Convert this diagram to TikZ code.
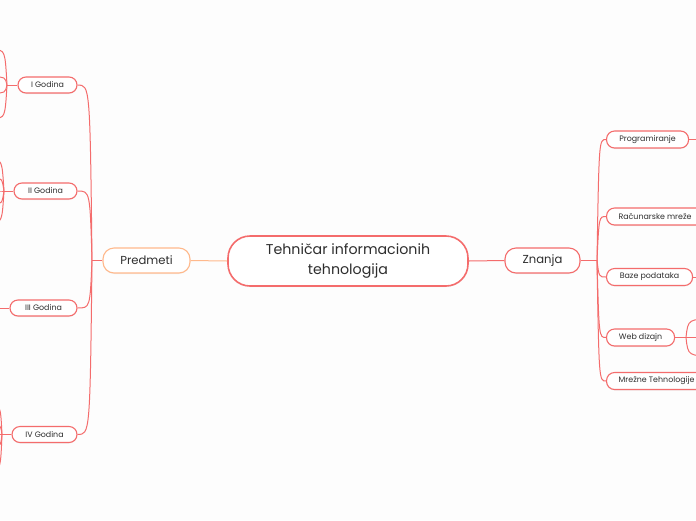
\documentclass[tikz,border=0pt]{standalone}
\usepackage{fontspec}
\setmainfont{Poppins}
\usetikzlibrary{shadows,calc}
\definecolor{mred}{HTML}{F46C6C}
\definecolor{morange}{HTML}{FFB98C}
\definecolor{mtext}{HTML}{2E2E2E}
\definecolor{mbg}{HTML}{FDFDFD}
\begin{document}
\begin{tikzpicture}[x=1pt,y=-1pt,
  box/.style={draw=mred, line width=1.1pt, fill=white, rounded corners=8pt,
    minimum height=16pt, inner sep=0pt, text=mtext,
    font=\fontsize{7.9}{9}\selectfont,
    drop shadow={shadow xshift=0pt, shadow yshift=-1pt, opacity=0.10}},
  conn/.style={draw=mred, line width=1pt},
]
\useasboundingbox (0,0) rectangle (696,520);
\fill[mbg] (0,0) rectangle (696,520);
\clip (0,0) rectangle (696,520);

% main nodes
\node[box, line width=1.6pt, minimum width=240pt, minimum height=50pt, rounded corners=22pt,
  font=\fontsize{14.2}{19.5}\selectfont, align=center] (c) at (348,261) {Tehničar informacionih\\tehnologija};
\node[box, draw=morange, minimum width=87pt, minimum height=25pt, rounded corners=11pt,
  font=\fontsize{11.6}{13}\selectfont] (p) at (146.5,260.5) {Predmeti};
\node[box, minimum width=75pt, minimum height=25pt, rounded corners=11pt,
  font=\fontsize{11.6}{13}\selectfont] (z) at (542.5,260.5) {Znanja};

% left children
\node[box, minimum width=59pt] (g1) at (47.5,85) {I Godina};
\node[box, minimum width=63pt] (g2) at (45.5,191) {II Godina};
\node[box, minimum width=67pt] (g3) at (43.5,308) {III Godina};
\node[box, minimum width=65pt] (g4) at (44.5,434.5) {IV Godina};

% right children
\node[box, anchor=west, minimum width=82pt, minimum height=17pt] (k1) at (606,139.5) {Programiranje};
\node[box, anchor=west, minimum width=97pt, minimum height=17pt] (k2) at (606,216.5) {Računarske mreže};
\node[box, anchor=west, minimum width=86pt, minimum height=17pt] (k3) at (606,277) {Baze podataka};
\node[box, anchor=west, minimum width=68pt, minimum height=17pt] (k4) at (606,337.5) {Web dizajn};
\node[box, anchor=west, minimum width=100pt, minimum height=17pt] (k5) at (606,381) {Mrežne Tehnologije};

% connectors from root
\draw[conn, draw=morange] (c.west) -- (p.east);
\draw[conn] (c.east) -- (z.west);

% Predmeti subtree
\coordinate (ps) at (92,260.5);
\draw[conn] (p.west) -- (ps);
\foreach \g in {g1,g2,g3,g4}{
  \draw[conn] (ps) .. controls ($(ps|-\g.east)+(-2,0)$) and ($(ps|-\g.east)+(-2,0)$) .. (\g.east);
}

% Znanja subtree
\coordinate (zs) at (597,260.5);
\draw[conn] (z.east) -- (zs);
\foreach \k in {k1,k2,k3,k4,k5}{
  \draw[conn] (zs) .. controls ($(zs|-\k.west)+(2,0)$) and ($(zs|-\k.west)+(2,0)$) .. (\k.west);
}

% off-picture continuations (right)
\coordinate (k1o) at (720,139.5);
\draw[conn] (k1.east) -- (k1o);
\coordinate (k3o) at (720,277);
\draw[conn] (k3.east) -- (k3o);
\coordinate (ws) at (686,337.5);
\draw[conn] (k4.east) -- (ws);
\foreach \yy in {319,337.5,356}{
  \coordinate (wc) at (716,\yy);
  \draw[conn] (ws) .. controls ($(ws|-wc)+(2,0)$) and ($(ws|-wc)+(2,0)$) .. (wc);
}

% off-picture continuations (left)
\coordinate (g1s) at (7,85);
\draw[conn] (g1.west) -- (g1s);
\foreach \yy in {50,77,93,118}{
  \coordinate (gc) at (-6,\yy);
  \draw[conn] (g1s) .. controls ($(g1s|-gc)+(-2,0)$) and ($(g1s|-gc)+(-2,0)$) .. (gc);
}
\coordinate (g2s) at (4,191);
\draw[conn] (g2.west) -- (g2s);
\foreach \yy in {160,178,191,204,222}{
  \coordinate (gc) at (-8,\yy);
  \draw[conn] (g2s) .. controls ($(g2s|-gc)+(-2,0)$) and ($(g2s|-gc)+(-2,0)$) .. (gc);
}
\coordinate (g3o) at (-10,308);
\draw[conn] (g3.west) -- (g3o);
\coordinate (g4s) at (2,434.5);
\draw[conn] (g4.west) -- (g4s);
\foreach \yy in {405,424,434.5,447,470}{
  \coordinate (gc) at (-10,\yy);
  \draw[conn] (g4s) .. controls ($(g4s|-gc)+(-1.5,0)$) and ($(g4s|-gc)+(-1.5,0)$) .. (gc);
}
\end{tikzpicture}
\end{document}
